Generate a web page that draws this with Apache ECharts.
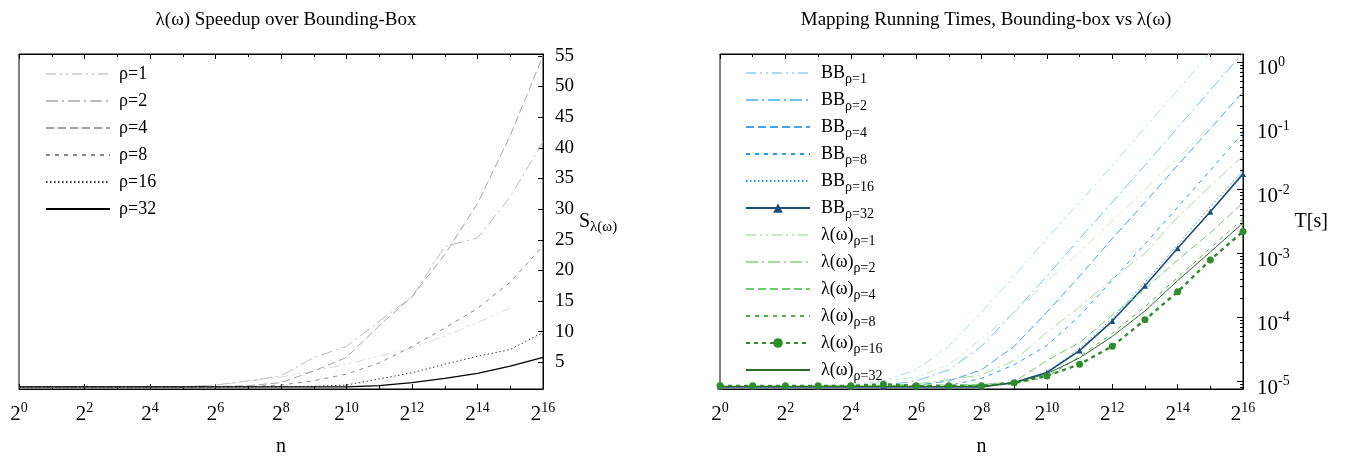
<!DOCTYPE html>
<html>
<head>
<meta charset="utf-8">
<script src="https://cdn.jsdelivr.net/npm/echarts@6/dist/echarts.min.js"></script>
<style>
html, body { margin: 0; padding: 0; background: #fff; }
#main { width: 1354px; height: 462px; }
</style>
</head>
<body>
<div id="main"></div>
<script>
// x = log2(n)
var exps = [0, 1, 2, 3, 4, 5, 6, 7, 8, 9, 10, 11, 12, 13, 14, 15, 16];
var rhoLabels = ['ρ=1', 'ρ=2', 'ρ=4', 'ρ=8', 'ρ=16', 'ρ=32'];
var speedTicks = [5, 10, 15, 20, 25, 30, 35, 40, 45, 50, 55];
var timeMinorTicks = [8e-6, 9e-6,
    2e-5, 3e-5, 4e-5, 5e-5, 6e-5, 7e-5, 8e-5, 9e-5,
    2e-4, 3e-4, 4e-4, 5e-4, 6e-4, 7e-4, 8e-4, 9e-4,
    2e-3, 3e-3, 4e-3, 5e-3, 6e-3, 7e-3, 8e-3, 9e-3,
    2e-2, 3e-2, 4e-2, 5e-2, 6e-2, 7e-2, 8e-2, 9e-2,
    0.2, 0.3, 0.4, 0.5, 0.6, 0.7, 0.8, 0.9];

// speedup S_λ(ω), left chart (rho=1 stops at 2^15)
var speed1 = [1, 1, 1, 1, 1, 1.02, 1.3, 1.9, 2.6, 3.6, 4.7, 6.0, 7.4, 9.3, 11.5, 13.9];
var speed2 = [1, 1, 1, 1, 1, 1.02, 1.3, 2.0, 2.8, 5.8, 7.6, 11.7, 15.7, 23.9, 25.3, 32, 41];
var speed4 = [1, 1, 1, 1, 1, 1, 1.05, 1.2, 1.7, 3.6, 5.8, 11, 15.7, 22.6, 30.9, 42, 55];
var speed8 = [1, 1, 1, 1, 1, 1, 1, 1.05, 1.3, 2.0, 3.1, 4.9, 7.6, 10.6, 13.8, 18.1, 24];
var speed16 = [1, 1, 1, 1, 1, 1, 1, 1, 1.05, 1.1, 1.3, 2.3, 3.3, 4.7, 6.0, 7.1, 9.9];
var speed32 = [1, 1, 1, 1, 1, 1, 1, 1, 1, 1, 1.0, 1.2, 1.7, 2.4, 3.2, 4.4, 5.8];

// running times T[s], right chart
var bb1 = [8.2e-6, 8.2e-6, 8.2e-6, 8.3e-6, 8.5e-6, 1.0e-5, 1.5e-5, 3.5e-5, 1.2e-4, 4.4e-4, 1.7e-3, 6.3e-3, 0.024, 0.093, 0.36, 1.4];
var bb2 = [8.2e-6, 8.2e-6, 8.2e-6, 8.2e-6, 8.3e-6, 8.6e-6, 1.0e-5, 1.5e-5, 3.5e-5, 1.2e-4, 4.4e-4, 1.7e-3, 6.3e-3, 0.024, 0.093, 0.36, 1.39];
var bb4 = [8.2e-6, 8.2e-6, 8.2e-6, 8.2e-6, 8.2e-6, 8.3e-6, 8.6e-6, 1.0e-5, 1.5e-5, 3.5e-5, 1.2e-4, 4.4e-4, 1.7e-3, 6.3e-3, 0.024, 0.09, 0.34];
var bb8 = [8.2e-6, 8.2e-6, 8.2e-6, 8.2e-6, 8.2e-6, 8.2e-6, 8.2e-6, 8.5e-6, 1.1e-5, 1.8e-5, 3.6e-5, 1.05e-4, 3.8e-4, 1.4e-3, 5.3e-3, 0.02, 0.077];
var bb16 = [8.2e-6, 8.2e-6, 8.2e-6, 8.2e-6, 8.2e-6, 8.2e-6, 8.2e-6, 8.2e-6, 8.2e-6, 9.5e-6, 1.38e-5, 3.2e-5, 9.6e-5, 3.5e-4, 1.38e-3, 5.4e-3, 0.020];
var bb32 = [8.1e-6, 8.1e-6, 8.1e-6, 8.1e-6, 8.1e-6, 8.1e-6, 8.1e-6, 8.1e-6, 8.1e-6, 9.5e-6, 1.36e-5, 3.0e-5, 8.7e-5, 3.1e-4, 1.2e-3, 4.5e-3, 0.0176];
var lam1 = [8.3e-6, 8.3e-6, 8.4e-6, 8.5e-6, 8.8e-6, 1.0e-5, 1.15e-5, 1.8e-5, 4.6e-5, 1.2e-4, 3.6e-4, 1.05e-3, 3.2e-3, 0.01, 0.031, 0.1];
var lam2 = [8.3e-6, 8.3e-6, 8.3e-6, 8.4e-6, 8.5e-6, 8.6e-6, 9.0e-6, 1.05e-5, 1.25e-5, 2.1e-5, 5.8e-5, 1.45e-4, 4.0e-4, 1.0e-3, 3.7e-3, 0.0113, 0.034];
var lam4 = [8.3e-6, 8.3e-6, 8.3e-6, 8.3e-6, 8.4e-6, 8.5e-6, 8.6e-6, 8.7e-6, 8.8e-6, 9.7e-6, 2.1e-5, 4.0e-5, 1.08e-4, 2.8e-4, 7.8e-4, 2.1e-3, 6.2e-3];
var lam8 = [8.3e-6, 8.3e-6, 8.3e-6, 8.3e-6, 8.3e-6, 8.4e-6, 8.4e-6, 8.4e-6, 8.5e-6, 9.0e-6, 1.16e-5, 2.4e-5, 5.6e-5, 1.45e-4, 4.2e-4, 1.2e-3, 3.5e-3];
var lam16 = [8.4e-6, 8.4e-6, 8.4e-6, 8.4e-6, 8.4e-6, 8.9e-6, 8.4e-6, 8.4e-6, 8.4e-6, 9.4e-6, 1.2e-5, 1.83e-5, 3.5e-5, 9.1e-5, 2.5e-4, 7.9e-4, 2.2e-3];
var lam32 = [8.2e-6, 8.2e-6, 8.2e-6, 8.2e-6, 8.2e-6, 8.2e-6, 8.2e-6, 8.2e-6, 8.2e-6, 9.3e-6, 1.3e-5, 2.3e-5, 5.0e-5, 1.25e-4, 3.75e-4, 1.05e-3, 3.0e-3];

var speedData = [speed1, speed2, speed4, speed8, speed16, speed32];
var bbData = [bb1, bb2, bb4, bb8, bb16, bb32];
var lamData = [lam1, lam2, lam4, lam8, lam16, lam32];

var serif = '"Liberation Serif", "DejaVu Serif", serif';
var grays = ['#d6d6d6', '#bcbcbc', '#a2a2a2', '#888888', '#3c3c3c', '#000000'];
var blues = ['#a9dcf7', '#6cc3f1', '#45a6e6', '#1f9ef0', '#3a8fd2', '#1b4f78'];
var greens = ['#c4ebbe', '#a2dc98', '#6fcc6c', '#48b048', '#2e8b2e', '#2b6a2b'];
var dashes = [[10, 4, 2, 4, 2, 4], [12, 4, 2, 4], [8, 4], [4, 5], [1.5, 2.5], 'solid'];
var noMark = 'rgba(0,0,0,0)';

function pairs(vals) {
    return vals.map(function (v, i) { return [exps[i], v]; });
}

var bbNames = rhoLabels.map(function (r) { return 'BB|' + r; });
var lamNames = rhoLabels.map(function (r) { return 'λ(ω)|' + r; });

var series = [];
speedData.forEach(function (d, i) {
    series.push({
        name: rhoLabels[i], type: 'line', xAxisIndex: 0, yAxisIndex: 0,
        symbol: 'none', animation: false,
        lineStyle: { color: grays[i], width: i === 5 ? 1.3 : 1, type: dashes[i] },
        itemStyle: { color: noMark },
        data: pairs(d)
    });
});
bbData.forEach(function (d, i) {
    var marked = i === 5;
    series.push({
        name: bbNames[i], type: 'line', xAxisIndex: 2, yAxisIndex: 1,
        symbol: marked ? 'triangle' : 'none', symbolSize: 6, animation: false,
        lineStyle: { color: blues[i], width: marked ? 1.6 : 1, type: dashes[i] },
        itemStyle: { color: marked ? blues[i] : noMark },
        data: pairs(d)
    });
});
lamData.forEach(function (d, i) {
    var marked = i === 4;
    series.push({
        name: lamNames[i], type: 'line', xAxisIndex: 2, yAxisIndex: 1,
        symbol: marked ? 'circle' : 'none', symbolSize: 7, animation: false,
        lineStyle: { color: greens[i], width: marked ? 2.4 : 1, type: marked ? [4, 4] : dashes[i] },
        itemStyle: { color: marked ? greens[i] : noMark },
        data: pairs(d)
    });
});

var expRich = {
    b: { fontFamily: serif, fontSize: 21, color: '#000' },
    sup: { fontFamily: serif, fontSize: 14, color: '#000', padding: [0, 0, 13, 0] }
};

function xAxisPair(grid) {
    var common = {
        gridIndex: grid, type: 'value', min: 0, max: 16, interval: 2,
        axisLine: { show: true, onZero: false, lineStyle: { color: '#000', width: 1 } },
        axisTick: { show: true, inside: true, length: 5, lineStyle: { color: '#000' } },
        minorTick: { show: true, splitNumber: 2, length: 3, lineStyle: { color: '#000' } },
        splitLine: { show: false }
    };
    var bottom = Object.assign({}, common, {
        position: 'bottom',
        axisLabel: {
            margin: 12, color: '#000', rich: expRich,
            formatter: function (v) { return '{b|2}{sup|' + v + '}'; }
        },
        name: 'n', nameLocation: 'middle', nameGap: 48,
        nameTextStyle: { fontFamily: serif, fontSize: 20, color: '#000' }
    });
    var top = Object.assign({}, common, { position: 'top', axisLabel: { show: false } });
    return [bottom, top];
}

var option = {
    backgroundColor: '#fff',
    animation: false,
    title: [{
        text: 'λ(ω) Speedup over Bounding-Box',
        left: 281, top: 6, textAlign: 'center',
        textStyle: { fontFamily: serif, fontSize: 19, fontWeight: 'normal', color: '#000' }
    }, {
        text: 'Mapping Running Times, Bounding-box vs λ(ω)',
        left: 981, top: 6, textAlign: 'center',
        textStyle: { fontFamily: serif, fontSize: 19, fontWeight: 'normal', color: '#000' }
    }],
    grid: [
        { left: 19, right: 811, top: 54, bottom: 67, show: true, borderColor: '#000', borderWidth: 1 },
        { left: 720, right: 111, top: 54, bottom: 67, show: true, borderColor: '#000', borderWidth: 1 }
    ],
    legend: [{
        data: rhoLabels, orient: 'vertical', left: 45, top: 65, padding: 0,
        itemWidth: 64, itemHeight: 12, itemGap: 9,
        textStyle: { fontFamily: serif, fontSize: 18, color: '#000', padding: [0, 0, 0, 4] }
    }, {
        data: bbNames.concat(lamNames), orient: 'vertical', left: 745, top: 64, padding: 0,
        itemWidth: 64, itemHeight: 12, itemGap: 5,
        formatter: function (name) {
            var p = name.split('|');
            return '{b|' + p[0] + '}{sub|' + p[1] + '}';
        },
        textStyle: {
            color: '#000', padding: [0, 0, 0, 6],
            rich: {
                b: { fontFamily: serif, fontSize: 18, color: '#000' },
                sub: { fontFamily: serif, fontSize: 14, color: '#000', padding: [12, 0, 0, 0] }
            }
        }
    }],
    xAxis: xAxisPair(0).concat(xAxisPair(1)),
    yAxis: [{
        gridIndex: 0, type: 'value', position: 'right', min: 0.66, max: 55.3,
        axisLine: { show: true, onZero: false, lineStyle: { color: '#000' } },
        axisTick: { show: true, inside: true, length: 5, customValues: speedTicks, lineStyle: { color: '#000' } },
        axisLabel: { customValues: speedTicks, margin: 12, fontFamily: serif, fontSize: 19, color: '#000' },
        splitLine: { show: false },
        name: 'S{sub|λ(ω)}', nameLocation: 'middle', nameRotate: 0, nameGap: 25,
        nameTextStyle: {
            fontFamily: serif, fontSize: 20, color: '#000',
            rich: { sub: { fontFamily: serif, fontSize: 15, color: '#000', padding: [12, 0, 0, 0] } }
        }
    }, {
        gridIndex: 1, type: 'log', position: 'right', min: 7.5e-6, max: 1.33, splitNumber: 5,
        axisLine: { show: true, onZero: false, lineStyle: { color: '#000' } },
        axisTick: { show: true, inside: true, length: 6, lineStyle: { color: '#000' } },
        axisLabel: {
            margin: 14, rich: expRich, padding: [14, 0, 0, 0],
            formatter: function (v) {
                var e = Math.log10(v);
                if (Math.abs(e - Math.round(e)) > 1e-6) return '';
                return '{b|10}{sup|' + Math.round(e) + '}';
            }
        },
        splitLine: { show: false },
        name: 'T[s]', nameLocation: 'middle', nameRotate: 0, nameGap: 44,
        nameTextStyle: { fontFamily: serif, fontSize: 20, color: '#000' }
    }, {
        gridIndex: 1, type: 'log', position: 'right', min: 7.5e-6, max: 1.33,
        axisLine: { show: false, onZero: false },
        axisTick: { show: true, inside: true, length: 3, customValues: timeMinorTicks, lineStyle: { color: '#000' } },
        axisLabel: { show: false },
        splitLine: { show: false }
    }],
    series: series
};

var chart = echarts.init(document.getElementById('main'));
chart.setOption(option);
</script>
</body>
</html>
